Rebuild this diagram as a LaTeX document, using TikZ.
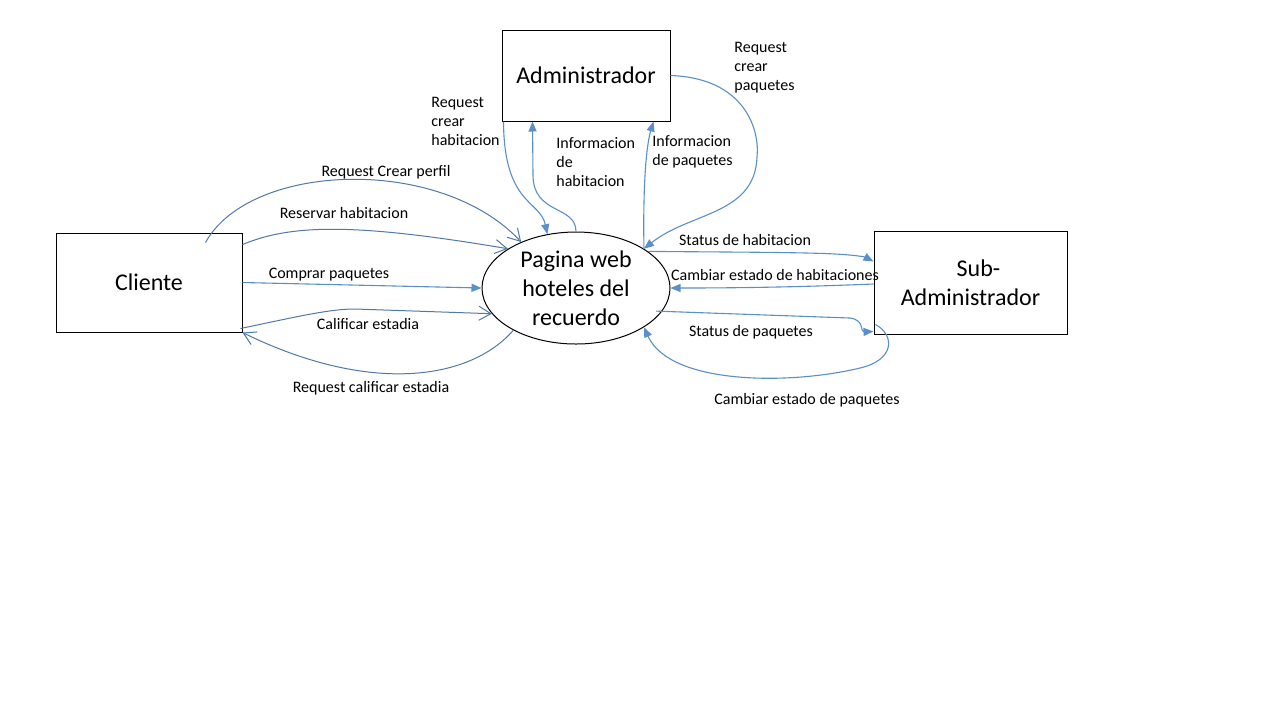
\documentclass[tikz,border=0pt]{standalone}
\usepackage{fontspec}
\setmainfont{Carlito}
\usetikzlibrary{arrows.meta,shapes.geometric,calc}
\definecolor{flow}{HTML}{5B8FC9}
\definecolor{flowdark}{HTML}{5079A6}
\begin{document}
\begin{tikzpicture}[x=0.5pt,y=-0.5pt,
  ent/.style={draw=black,line width=0.5pt,rectangle,inner sep=0pt,font=\fontsize{12}{14.5}\selectfont,align=center},
  proc/.style={draw=black,line width=0.5pt,ellipse,minimum width=94pt,minimum height=56pt,inner sep=0pt,font=\fontsize{12}{14.5}\selectfont,align=center},
  lbl/.style={font=\fontsize{8}{9.5}\selectfont,inner sep=0pt},
  flowa/.style={draw=flow,line width=0.55pt,-{Triangle[length=5pt,width=4pt]}},
  flowb/.style={draw=flowdark,line width=0.5pt,-{Straight Barb[length=6pt,width=7pt,line width=0.5pt]}},
]
\fill[white] (0,0) rectangle (1280,720);
\useasboundingbox (0,0) rectangle (1280,720);

% entities
\node[ent,minimum width=93pt,minimum height=49.5pt] (cli) at (149,282.5) {Cliente};
\node[ent,minimum width=84pt,minimum height=45.5pt] (adm) at (586,75.5) {Administrador};
\node[ent,minimum width=96.5pt,minimum height=51.5pt] (sub) at (970.5,282.5) {\hspace*{8pt}Sub-\\Administrador};
\node[proc] (web) at (576,288) {Pagina web\\hoteles del\\recuerdo};

% Cliente <-> web
\draw[flowb] ($(cli.north east)+(-37,10)$) .. controls (250,162) and (440,155) .. (web.140);
\draw[flowb] ($(cli.north east)+(0,12)$) .. controls (290,225) and (350,222) .. (web.150);
\draw[flowa] (cli.east) -- (web.west);
\draw[flowb] ($(cli.south east)+(-2,-4)$) .. controls (300,316) and (330,309) .. (355,309) -- (web.197);
\draw[flowb] (web.214) .. controls (470,380) and (370,395) .. (cli.south east);

% Administrador <-> web
\draw[flowa] ($(adm.south west)+(2,0)$) .. controls (504,205) and (540,200) .. (web.118);
\draw[flowa] (web.north) .. controls (576,205) and (533,215) .. (533,175) -- ($(adm.south west)+(31,0)$);
\draw[flowa] (web.30) .. controls (643,200) and (645,150) .. ($(adm.south east)+(-17,0)$);
\draw[flowa] (adm.east) .. controls (745,78) and (760,130) .. (757,157) .. controls (755,215) and (690,212) .. (web.30);

% Sub-Administrador <-> web
\draw[flowa] (web.27) .. controls (700,252) and (800,252) .. (835,254) .. controls (855,255) and (865,257) .. ($(sub.north west)+(0,31)$);
\draw[flowa] ($(sub.west)+(0,1.5)$) .. controls (800,287) and (740,288) .. (web.east);
\draw[flowa] ($(web.345)+(-6,0)$) -- (850,318) .. controls (865,320) and (860,332) .. ($(sub.south west)+(0,-3)$);
\draw[flowa] ($(sub.south west)+(2,-10)$) .. controls (895,335) and (895,360) .. (860,368) .. controls (790,385) and (670,385) .. (web.330);

% labels
\node[lbl] (l1) at (386,172) {Request Crear perfil};
\node[lbl] (l2) at (344,213) {Reservar habitacion};
\node[lbl] (l3) at (329,275) {Comprar paquetes};
\node[lbl] (l4) at (368,324) {Calificar estadia};
\node[lbl] (l5) at (371,388) {Request calificar estadia};
\node[lbl,anchor=base west,align=left] (l6) at (431,145) {Request\\crear\\habitacion};
\node[lbl,anchor=base west,align=left] (l7) at (556,186) {Informacion\\de\\habitacion};
\node[lbl,anchor=base west,align=left] (l8) at (652,165) {Informacion\\de paquetes};
\node[lbl,anchor=base west,align=left] (l9) at (734,90) {Request\\crear\\paquetes};
\node[lbl] (l10) at (745,240) {Status de habitacion};
\node[lbl] (l11) at (775,275) {Cambiar estado de habitaciones};
\node[lbl] (l12) at (751,332) {Status de paquetes};
\node[lbl] (l13) at (807,400) {Cambiar estado de paquetes};
\end{tikzpicture}
\end{document}
